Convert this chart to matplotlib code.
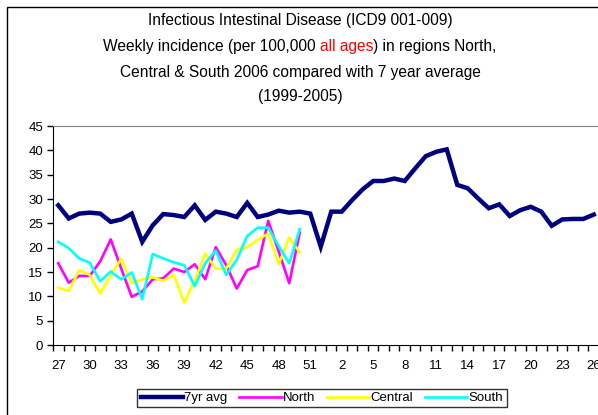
import numpy as np
import matplotlib
matplotlib.use('Agg')
from matplotlib import pyplot as plt
from matplotlib.patches import Rectangle

plt.rcParams['font.family'] = ['Liberation Sans', 'DejaVu Sans']

weeks = list(range(27, 53)) + list(range(1, 27))

avg_7yr = [28.7, 26.0, 27.0, 27.2, 27.0, 25.3, 25.8, 27.0, 21.2, 24.6,
           26.9, 26.7, 26.3, 28.7, 25.7, 27.4, 27.0, 26.3, 29.2, 26.3,
           26.8, 27.6, 27.2, 27.4, 27.0, 20.2,
           27.4, 27.4, 29.8, 32.0, 33.7, 33.7, 34.2, 33.7, 36.3, 38.8,
           39.7, 40.2, 32.9, 32.2, 30.1, 28.1, 28.9, 26.5, 27.7, 28.4,
           27.4, 24.5, 25.8, 25.9, 25.9, 26.8]

north = [16.8, 12.8, 14.2, 14.2, 17.2, 21.7, 15.7, 9.9, 11.0, 13.5,
         13.7, 15.7, 15.0, 16.6, 13.5, 20.1, 16.4, 11.6, 15.4, 16.2,
         25.5, 19.2, 12.7, 23.1]

central = [11.8, 11.1, 15.4, 14.4, 10.6, 14.4, 17.7, 12.7, 13.5, 13.9,
           13.2, 14.4, 8.7, 13.3, 18.8, 15.7, 15.7, 19.6, 20.1, 21.6,
           22.9, 16.6, 22.1, 19.0]

south = [21.2, 19.9, 17.8, 16.9, 13.1, 15.1, 13.5, 14.9, 9.4, 18.7,
         17.8, 17.0, 16.4, 12.1, 16.8, 19.4, 14.4, 17.5, 22.4, 24.1,
         24.1, 20.3, 16.8, 23.8]

W, H = 598, 415
fig = plt.figure(figsize=(W / 100, H / 100), dpi=100)

# chart area border (Excel style)
fig.patches.append(Rectangle((6.5 / W, -0.05), 1.2, 1 - 6.5 / H + 0.05,
                             transform=fig.transFigure, fill=False,
                             edgecolor='black', linewidth=1.0))

ax = fig.add_axes([53 / W, 1 - 345 / H, 546 / W, (345 - 126) / H])

x = np.arange(len(weeks))
ax.plot(x, avg_7yr, color='#000080', linewidth=3.2, label='7yr avg', solid_joinstyle='miter')
ax.plot(x[:len(north)], north, color='#FF00FF', linewidth=1.9, label='North')
ax.plot(x[:len(central)], central, color='#FFFF00', linewidth=1.9, label='Central')
ax.plot(x[:len(south)], south, color='#00FFFF', linewidth=1.9, label='South')

ax.set_xlim(-0.5, len(weeks) - 0.5)
ax.set_ylim(0, 45)
ax.set_yticks(np.arange(0, 46, 5))
ax.tick_params(axis='y', direction='out', length=4, width=1, labelsize=9.5, pad=3)

ax.set_xticks(np.arange(-0.5, len(weeks), 1))
ax.set_xticklabels([])
ax.set_xticks(x[::3], minor=True)
ax.set_xticklabels([str(w) for w in weeks[::3]], minor=True)
ax.tick_params(axis='x', which='major', direction='out', length=4, width=1)
ax.tick_params(axis='x', which='minor', length=0, labelsize=9.5, pad=11)

for s in ['left', 'bottom']:
    ax.spines[s].set_color('black')
ax.spines['top'].set_color('#808080')
ax.spines['right'].set_visible(False)

leg = fig.legend(loc='center', bbox_to_anchor=(322 / W, 1 - 398 / H), ncol=4,
                 frameon=True, fancybox=False, edgecolor='black', fontsize=9.5,
                 handlelength=3.2, handletextpad=0.1, columnspacing=0.9,
                 borderpad=0.25, borderaxespad=0)
leg.get_frame().set_linewidth(1.0)

# title, with "all ages" in red
fs = 11.2
cx = 300 / W
fig.text(cx, 1 - 21 / H, 'Infectious Intestinal Disease (ICD9 001-009)', ha='center', va='center', fontsize=fs)
fig.text(cx, 1 - 72 / H, 'Central & South 2006 compared with 7 year average', ha='center', va='center', fontsize=fs)
fig.text(cx, 1 - 97 / H, '(1999-2005)', ha='center', va='center', fontsize=fs)

parts = [('Weekly incidence (per 100,000 ', 'black'), ('all ages', 'red'), (') in regions North,', 'black')]
renderer = fig.canvas.get_renderer()
tmp = [fig.text(0, 0, p, fontsize=fs) for p, c in parts]
widths = [t.get_window_extent(renderer).width for t in tmp]
for t in tmp:
    t.remove()
xpos = 300 - sum(widths) / 2
for (p, c), w in zip(parts, widths):
    fig.text(xpos / W, 1 - 47 / H, p, ha='left', va='center', fontsize=fs, color=c)
    xpos += w

fig.savefig('out.png', dpi=100)
